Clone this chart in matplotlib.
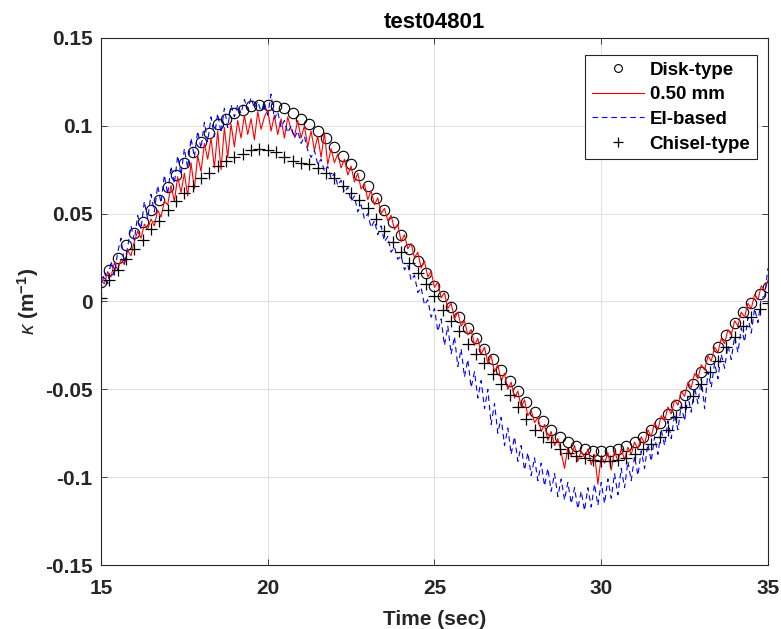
import numpy as np
import matplotlib
matplotlib.use("Agg")
import matplotlib.pyplot as plt

# time grids
t_mark = np.linspace(15, 35, 81)    # marker series, every 0.25 s
t_line = np.linspace(15, 35, 201)   # line series, every 0.1 s

disk = [0.011, 0.018, 0.025, 0.032, 0.039, 0.045, 0.052, 0.058, 0.065, 0.072,
        0.079, 0.085, 0.091, 0.096, 0.101, 0.104, 0.107, 0.109, 0.111, 0.112,
        0.112, 0.111, 0.110, 0.107, 0.104, 0.101, 0.097, 0.093, 0.088, 0.083,
        0.078, 0.072, 0.066, 0.059, 0.052, 0.045, 0.038, 0.030, 0.023, 0.016,
        0.009, 0.003, -0.003, -0.009, -0.015, -0.021, -0.027, -0.033, -0.039, -0.045,
        -0.051, -0.057, -0.063, -0.068, -0.073, -0.077, -0.080, -0.082, -0.084, -0.085,
        -0.085, -0.085, -0.084, -0.082, -0.080, -0.077, -0.073, -0.069, -0.064, -0.059,
        -0.053, -0.047, -0.040, -0.033, -0.026, -0.019, -0.012, -0.006, -0.001, 0.004,
        0.008]

chisel = [0.002, 0.012, 0.018, 0.024, 0.030, 0.035, 0.041, 0.046, 0.052, 0.057,
          0.062, 0.066, 0.070, 0.073, 0.077, 0.080, 0.082, 0.084, 0.086, 0.087,
          0.086, 0.085, 0.082, 0.080, 0.079, 0.078, 0.076, 0.073, 0.070, 0.066,
          0.062, 0.058, 0.053, 0.047, 0.040, 0.034, 0.028, 0.022, 0.016, 0.010,
          0.003, -0.005, -0.011, -0.017, -0.024, -0.030, -0.035, -0.041, -0.047, -0.053,
          -0.060, -0.067, -0.073, -0.077, -0.080, -0.084, -0.086, -0.088, -0.089, -0.090,
          -0.091, -0.091, -0.090, -0.089, -0.087, -0.084, -0.081, -0.077, -0.073, -0.066,
          -0.060, -0.054, -0.047, -0.040, -0.034, -0.026, -0.020, -0.014, -0.009, -0.004,
          -0.001]

red_050 = [0.012, 0.010, 0.017, 0.014, 0.022, 0.018, 0.024, 0.021, 0.029, 0.026,
           0.034, 0.040, 0.036, 0.044, 0.041, 0.047, 0.043, 0.052, 0.048, 0.057,
           0.055, 0.066, 0.057, 0.071, 0.062, 0.073, 0.060, 0.079, 0.064, 0.083,
           0.074, 0.090, 0.081, 0.093, 0.076, 0.097, 0.075, 0.099, 0.082, 0.101,
           0.088, 0.103, 0.093, 0.106, 0.095, 0.104, 0.092, 0.108, 0.098, 0.105,
           0.109, 0.097, 0.106, 0.095, 0.104, 0.093, 0.105, 0.098, 0.094, 0.103,
           0.093, 0.100, 0.088, 0.097, 0.086, 0.094, 0.082, 0.096, 0.078, 0.087,
           0.079, 0.084, 0.076, 0.081, 0.072, 0.077, 0.068, 0.073, 0.064, 0.067,
           0.058, 0.063, 0.055, 0.059, 0.050, 0.053, 0.046, 0.049, 0.041, 0.044,
           0.034, 0.038, 0.030, 0.033, 0.025, 0.028, 0.019, 0.023, 0.014, 0.017,
           0.008, 0.011, 0.002, 0.005, -0.004, -0.001, -0.010, -0.006, -0.014, -0.011,
           -0.019, -0.016, -0.025, -0.021, -0.030, -0.026, -0.035, -0.031, -0.040, -0.036,
           -0.045, -0.041, -0.050, -0.046, -0.055, -0.051, -0.060, -0.056, -0.065, -0.062,
           -0.069, -0.066, -0.074, -0.070, -0.079, -0.074, -0.082, -0.078, -0.086, -0.095,
           -0.083, -0.088, -0.082, -0.091, -0.085, -0.089, -0.084, -0.093, -0.087, -0.104,
           -0.088, -0.092, -0.086, -0.096, -0.085, -0.091, -0.084, -0.090, -0.083, -0.087,
           -0.080, -0.084, -0.077, -0.081, -0.073, -0.077, -0.069, -0.073, -0.065, -0.068,
           -0.060, -0.064, -0.056, -0.059, -0.051, -0.054, -0.046, -0.049, -0.041, -0.044,
           -0.036, -0.039, -0.031, -0.034, -0.026, -0.029, -0.021, -0.024, -0.016, -0.019,
           -0.011, -0.014, -0.006, -0.009, -0.001, -0.004, 0.004, 0.001, 0.009, 0.006,
           0.012]

ei_based = [0.006, 0.017, 0.010, 0.023, 0.015, 0.028, 0.036, 0.022, 0.031, 0.043,
            0.035, 0.049, 0.041, 0.057, 0.047, 0.061, 0.051, 0.066, 0.056, 0.072,
            0.061, 0.077, 0.067, 0.083, 0.072, 0.087, 0.076, 0.093, 0.082, 0.097,
            0.087, 0.102, 0.091, 0.105, 0.094, 0.107, 0.096, 0.110, 0.099, 0.112,
            0.105, 0.112, 0.107, 0.115, 0.109, 0.116, 0.110, 0.114, 0.108, 0.113,
            0.106, 0.118, 0.104, 0.108, 0.099, 0.103, 0.096, 0.100, 0.093, 0.097,
            0.090, 0.094, 0.086, 0.082, 0.086, 0.078, 0.081, 0.074, 0.077, 0.070,
            0.073, 0.066, 0.069, 0.062, 0.065, 0.057, 0.060, 0.051, 0.055, 0.047,
            0.050, 0.042, 0.046, 0.038, 0.043, 0.034, 0.037, 0.028, 0.031, 0.024,
            0.026, 0.018, 0.021, 0.012, 0.015, 0.005, 0.008, -0.002, 0.001, -0.009,
            -0.004, -0.017, -0.010, -0.025, -0.014, -0.030, -0.020, -0.037, -0.027, -0.043,
            -0.033, -0.049, -0.040, -0.055, -0.045, -0.061, -0.050, -0.070, -0.058, -0.075,
            -0.066, -0.082, -0.072, -0.087, -0.077, -0.091, -0.082, -0.096, -0.086, -0.099,
            -0.089, -0.102, -0.092, -0.105, -0.095, -0.108, -0.098, -0.111, -0.101, -0.113,
            -0.103, -0.115, -0.106, -0.118, -0.108, -0.119, -0.106, -0.117, -0.104, -0.116,
            -0.103, -0.115, -0.101, -0.112, -0.098, -0.110, -0.095, -0.106, -0.091, -0.102,
            -0.088, -0.099, -0.085, -0.095, -0.081, -0.091, -0.077, -0.087, -0.073, -0.082,
            -0.068, -0.078, -0.064, -0.073, -0.059, -0.068, -0.054, -0.063, -0.049, -0.058,
            -0.044, -0.061, -0.040, -0.049, -0.035, -0.044, -0.030, -0.038, -0.025, -0.033,
            -0.020, -0.029, -0.015, -0.023, -0.009, -0.018, -0.004, -0.012, 0.002, 0.003,
            0.019]

x_ticks = [15, 20, 25, 30, 35]
y_ticks = [-0.15, -0.1, -0.05, 0, 0.05, 0.1, 0.15]
y_tick_labels = ['-0.15', '-0.1', '-0.05', '0', '0.05', '0.1', '0.15']

plt.rcParams['font.family'] = ['Liberation Sans', 'DejaVu Sans']
plt.rcParams['font.weight'] = 'bold'
plt.rcParams['mathtext.fontset'] = 'custom'
plt.rcParams['mathtext.rm'] = 'Liberation Sans:bold'
plt.rcParams['mathtext.it'] = 'Liberation Sans:slant=italic:weight=normal'
plt.rcParams['mathtext.bf'] = 'Liberation Sans:bold'

gray = '#262626'

fig = plt.figure(figsize=(7.81, 6.29), dpi=100)
ax = fig.add_axes([0.1293, 0.1017, 0.854, 0.838])

ax.plot(t_mark, disk, linestyle='none', marker='o', markersize=7.5,
        markerfacecolor='none', markeredgecolor='black', markeredgewidth=0.8,
        label='Disk-type')
ax.plot(t_line, red_050, color='red', linewidth=0.8, label='0.50 mm')
ax.plot(t_line, ei_based, color='blue', linewidth=0.8, dashes=(5, 3.5),
        label='EI-based')
ax.plot(t_mark, chisel, linestyle='none', marker='+', markersize=9,
        color='black', markeredgewidth=0.9, label='Chisel-type')

ax.set_xlim(15, 35)
ax.set_ylim(-0.15, 0.15)
ax.set_xticks(x_ticks)
ax.set_yticks(y_ticks)
ax.set_yticklabels(y_tick_labels)
ax.tick_params(direction='in', top=True, right=True, labelsize=15,
               colors=gray, length=4, width=0.6, pad=6)
ax.tick_params(axis='x', pad=10)
for lab in ax.get_xticklabels() + ax.get_yticklabels():
    lab.set_fontweight('bold')
for sp in ax.spines.values():
    sp.set_color(gray)
    sp.set_linewidth(0.8)
ax.grid(True, color='#dedede', linewidth=0.7)
ax.set_axisbelow(True)

ax.set_title('test04801', fontsize=16, fontweight='bold', color='black', pad=7)
ax.set_xlabel('Time (sec)', fontsize=15, fontweight='bold', color=gray, labelpad=9)
ax.set_ylabel(r'$\kappa$ (m$^{-1}$)', fontsize=15, fontweight='bold', color=gray,
              labelpad=3)

leg = ax.legend(loc='upper right', bbox_to_anchor=(0.9835, 0.9677),
                borderaxespad=0, fancybox=False, framealpha=1, edgecolor=gray,
                fontsize=13.5, handlelength=2.8, handletextpad=0.3,
                borderpad=0.35, labelspacing=0.4, markerscale=0.75)
leg.get_frame().set_linewidth(0.8)
for txt in leg.get_texts():
    txt.set_fontweight('bold')

fig.savefig('out.png', dpi=100)
